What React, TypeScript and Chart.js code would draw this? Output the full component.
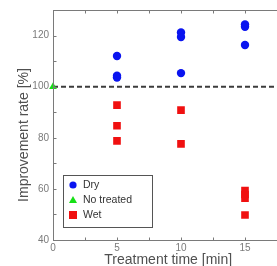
import React, { useEffect, useRef } from 'react';
import { Chart, registerables } from 'chart.js';

Chart.register(...registerables);

const FONT = '"Liberation Sans", Arial, sans-serif';

// Axis ranges and ticks
const xMin = 0;
const xMax = 18;
const yMin = 40;
const yMax = 130;
const xLabelStep = 5;
const yLabelStep = 20;
const xMinorStep = 2.5;
const yMinorStep = 10;

// Series
const dryTimes = [5, 5, 5, 10, 10, 10, 15, 15, 15];
const dryValues = [112, 104.3, 103.6, 121.2, 119.4, 105.3, 124.3, 123.4, 116.3];
const noTreatedTimes = [0];
const noTreatedValues = [100];
const wetTimes = [5, 5, 5, 10, 10, 15, 15, 15, 15];
const wetValues = [92.8, 84.7, 78.8, 90.8, 77.6, 59.3, 57.8, 56.4, 49.8];
const baselineValue = 100;

const seriesLabels = ['Dry', 'No treated', 'Wet'];
const xTitle = 'Treatment time [min]';
const yTitle = 'Improvement rate [%]';

const BLUE = '#0a14f0';
const GREEN = '#16e016';
const RED = '#f01010';

const toPoints = (xs: number[], ys: number[]) => xs.map((x, i) => ({ x, y: ys[i] }));

const decorPlugin = {
  id: 'decor',
  afterDatasetsDraw(chart: any) {
    const { ctx, chartArea, scales } = chart;
    const xs = scales.x;
    const ys = scales.y;
    ctx.save();
    ctx.strokeStyle = '#7a7a7a';
    ctx.lineWidth = 1;
    const L = Math.round(chartArea.left) + 0.5;
    const T = Math.round(chartArea.top) + 0.5;
    const R = Math.round(chartArea.right) + 0.5;
    const B = Math.round(chartArea.bottom) + 0.5;
    ctx.strokeRect(L, T, R - L, B - T);
    const tl = 3;
    ctx.beginPath();
    for (let v = xMin; v <= xMax + 1e-9; v += xMinorStep) {
      const px = Math.round(xs.getPixelForValue(v)) + 0.5;
      ctx.moveTo(px, B);
      ctx.lineTo(px, B - tl);
      ctx.moveTo(px, T);
      ctx.lineTo(px, T + tl);
    }
    for (let v = yMin; v <= yMax + 1e-9; v += yMinorStep) {
      const py = Math.round(ys.getPixelForValue(v)) + 0.5;
      ctx.moveTo(L, py);
      ctx.lineTo(L + tl, py);
      ctx.moveTo(R, py);
      ctx.lineTo(R - tl, py);
    }
    ctx.stroke();

    // y title
    ctx.fillStyle = '#505050';
    ctx.font = `14px ${FONT}`;
    ctx.textAlign = 'center';
    ctx.textBaseline = 'middle';
    ctx.translate(24, 135);
    ctx.rotate(-Math.PI / 2);
    ctx.fillText(yTitle, 0, 0);
    ctx.restore();
  },
  afterDraw(chart: any) {
    const { ctx, chartArea } = chart;
    ctx.save();
    const bx = Math.round(chartArea.left) + 10.5;
    const by = 175.5;
    const bw = 89;
    const bh = 52;
    ctx.fillStyle = '#ffffff';
    ctx.fillRect(bx, by, bw, bh);
    ctx.strokeStyle = '#555555';
    ctx.lineWidth = 1;
    ctx.strokeRect(bx, by, bw, bh);
    const mx = bx + 9.5;
    const rows = [185, 200, 215];
    const colors = [BLUE, GREEN, RED];
    rows.forEach((ry, i) => {
      ctx.fillStyle = colors[i];
      ctx.beginPath();
      if (i === 0) {
        ctx.arc(mx, ry, 3.6, 0, Math.PI * 2);
      } else if (i === 1) {
        ctx.moveTo(mx, ry - 4);
        ctx.lineTo(mx + 4, ry + 3);
        ctx.lineTo(mx - 4, ry + 3);
        ctx.closePath();
      } else {
        ctx.rect(mx - 4, ry - 4, 8, 8);
      }
      ctx.fill();
      ctx.fillStyle = '#333333';
      ctx.font = `10.5px ${FONT}`;
      ctx.textAlign = 'left';
      ctx.textBaseline = 'middle';
      ctx.fillText(seriesLabels[i], mx + 10, ry + 0.5);
    });
    ctx.restore();
  },
};

export default function App() {
  const ref = useRef<HTMLCanvasElement | null>(null);
  useEffect(() => {
    if (!ref.current) return;
    const chart = new Chart(ref.current, {
      type: 'scatter',
      data: {
        datasets: [
          {
            label: 'baseline',
            type: 'line',
            data: [
              { x: xMin, y: baselineValue },
              { x: xMax, y: baselineValue },
            ],
            showLine: true,
            borderColor: '#3c3c3c',
            borderWidth: 2,
            borderDash: [5, 3],
            pointRadius: 0,
            fill: false,
            order: 10,
          } as any,
          {
            label: seriesLabels[0],
            data: toPoints(dryTimes, dryValues),
            backgroundColor: BLUE,
            borderColor: BLUE,
            pointStyle: 'circle',
            pointRadius: 4.2,
            borderWidth: 0,
            order: 1,
          },
          {
            label: seriesLabels[1],
            data: toPoints(noTreatedTimes, noTreatedValues),
            backgroundColor: GREEN,
            borderColor: GREEN,
            pointStyle: 'triangle',
            pointRadius: 4.5,
            borderWidth: 0,
            clip: false,
            order: 0,
          } as any,
          {
            label: seriesLabels[2],
            data: toPoints(wetTimes, wetValues),
            backgroundColor: RED,
            borderColor: RED,
            pointStyle: 'rect',
            pointRadius: 5.4,
            borderWidth: 0,
            order: 1,
          },
        ],
      },
      options: {
        responsive: false,
        animation: false,
        layout: { padding: { left: 0, top: 10, right: 16.6, bottom: 0 } },
        plugins: { legend: { display: false }, tooltip: { enabled: false } },
        scales: {
          x: {
            type: 'linear',
            min: xMin,
            max: xMax,
            grid: { display: false, drawTicks: false },
            border: { display: false },
            ticks: {
              stepSize: xLabelStep,
              padding: 2,
              color: '#7a7a7a',
              font: { size: 10, family: FONT },
              maxRotation: 0,
              autoSkip: false,
              callback: (v: any) => (Number(v) % xLabelStep === 0 ? String(v) : ''),
            },
            title: {
              display: true,
              text: xTitle,
              color: '#505050',
              font: { size: 14, family: FONT },
              padding: { top: 0, bottom: 6 },
            },
            afterFit: (s: any) => {
              s.height = 35;
            },
          },
          y: {
            type: 'linear',
            min: yMin,
            max: yMax,
            grid: { display: false, drawTicks: false },
            border: { display: false },
            ticks: {
              stepSize: yLabelStep,
              padding: 4,
              color: '#7a7a7a',
              font: { size: 10, family: FONT },
              autoSkip: false,
              callback: (v: any) => (Number(v) % yLabelStep === 0 ? String(v) : ''),
            },
            afterFit: (s: any) => {
              s.width = 53;
            },
          },
        },
      },
      plugins: [decorPlugin],
    });
    return () => chart.destroy();
  }, []);
  return (
    <div style={{ position: 'fixed', left: 0, top: 0, width: 277, height: 266, overflow: 'hidden', background: '#fff' }}>
      <canvas ref={ref} width={300} height={275} style={{ display: 'block' }} />
    </div>
  );
}
